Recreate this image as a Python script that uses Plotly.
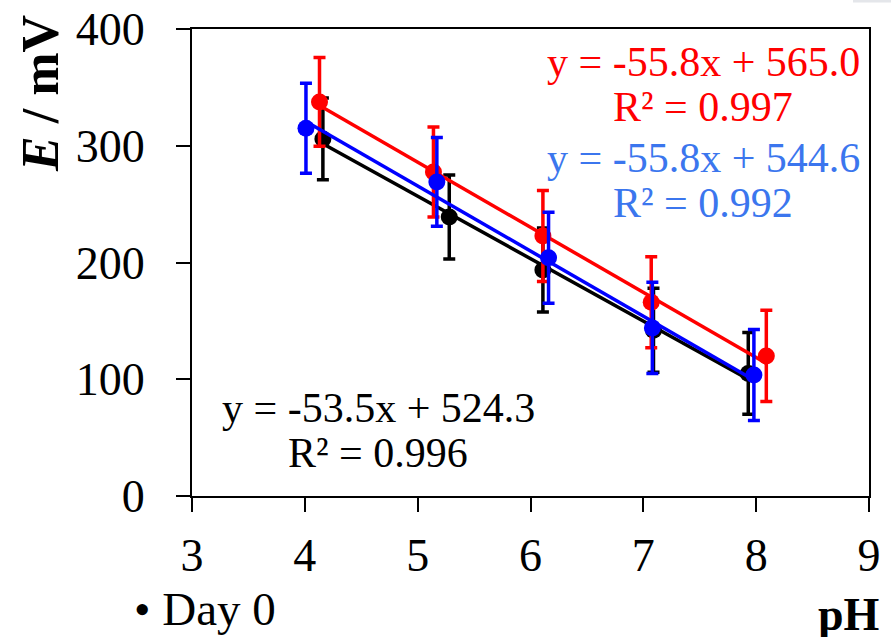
import plotly.graph_objects as go

# Electrode response E vs pH, three repeats (Day 0)
ph_black = [4.16, 5.28, 6.11, 7.09, 7.93]
e_black = [305.8, 239.0, 193.6, 142.0, 105.0]
err_black = [35, 36, 36, 36, 35]

ph_red = [4.13, 5.14, 6.11, 7.07, 8.09]
e_red = [337.5, 277.5, 222.7, 166.0, 120.0]
err_red = [38, 38.5, 39, 39, 39]

ph_blue = [4.01, 5.17, 6.16, 7.08, 7.98]
e_blue = [315.0, 269.0, 204.0, 144.0, 103.6]
err_blue = [38.5, 38, 39, 39, 39]

# Linear fits (slope, intercept, R²)
fit_black = (-53.5, 524.3, 0.996)
fit_red = (-55.8, 565.0, 0.997)
fit_blue = (-55.8, 544.6, 0.992)

x_ticks = [3, 4, 5, 6, 7, 8, 9]
y_ticks = [0, 100, 200, 300, 400]

FONT = "Liberation Serif, Times New Roman, serif"
BLUE_TEXT = "#3b76ee"

fig = go.Figure()


def add_series(xs, ys, errs, fit, color):
    m, b, _ = fit
    x0, x1 = min(xs), max(xs)
    fig.add_trace(go.Scatter(
        x=[x0, x1], y=[m * x0 + b, m * x1 + b], mode="lines",
        line=dict(color=color, width=3.5), showlegend=False, hoverinfo="skip"))
    fig.add_trace(go.Scatter(
        x=xs, y=ys, mode="markers",
        marker=dict(color=color, size=17),
        error_y=dict(type="data", array=errs, visible=True,
                     color=color, thickness=3.5, width=6),
        showlegend=False))


add_series(ph_black, e_black, err_black, fit_black, "#000000")
add_series(ph_red, e_red, err_red, fit_red, "#ff0000")
add_series(ph_blue, e_blue, err_blue, fit_blue, "#0000ff")


def eq_text(fit):
    m, b, r2 = fit
    sign = "+" if b >= 0 else "-"
    return f"y = {m:.1f}x {sign} {abs(b):.1f}", f"R² = {r2:.3f}"


annotations = []
for fit, color, xc, y_eq, y_r2 in [
    (fit_red, "#ff0000", 7.53, 371.7, 333.0),
    (fit_blue, BLUE_TEXT, 7.53, 289.5, 251.0),
    (fit_black, "#000000", 4.65, 75.4, 36.8),
]:
    eq, r2 = eq_text(fit)
    for txt, yy in ((eq, y_eq), (r2, y_r2)):
        annotations.append(dict(x=xc, y=yy, xref="x", yref="y", text=txt,
                                xanchor="center", yanchor="middle", showarrow=False,
                                font=dict(family=FONT, size=42, color=color)))

# axis titles and caption
annotations.append(dict(x=-0.223, y=0.861, xref="paper", yref="paper",
                        xanchor="center", yanchor="middle",
                        text="<b><i>E</i> / mV</b>", textangle=-90, showarrow=False,
                        font=dict(family=FONT, size=52, color="#000000")))
annotations.append(dict(x=(816 - 192) / 677, y=(496 - 614) / 467, xref="paper", yref="paper",
                        xanchor="left", yanchor="middle", text="<b>pH</b>", showarrow=False,
                        font=dict(family=FONT, size=46, color="#000000")))
annotations.append(dict(x=(132 - 192) / 677, y=(496 - 609) / 467, xref="paper", yref="paper",
                        xanchor="left", yanchor="middle", text="• Day 0", showarrow=False,
                        font=dict(family=FONT, size=47, color="#000000")))

fig.update_layout(
    width=891, height=637,
    margin=dict(l=192, r=22, t=29, b=141, autoexpand=False),
    paper_bgcolor="white", plot_bgcolor="white",
    font=dict(family=FONT, color="#000000"),
    annotations=annotations,
    shapes=[dict(type="rect", xref="paper", yref="paper",
                 x0=(853 - 192) / 677, x1=(891 - 192) / 677,
                 y0=(496 - 0) / 467, y1=(496 - 2.5) / 467,
                 fillcolor="#e4e6ea", line=dict(width=0), layer="below")],
)
fig.update_xaxes(
    range=[3, 9], tickvals=x_ticks, ticks="outside", ticklen=14, tickwidth=2,
    tickcolor="#000000", showline=True, linecolor="#000000", linewidth=2,
    mirror=True, showgrid=False, zeroline=False,
    tickfont=dict(family=FONT, size=46), ticklabelstandoff=4)
fig.update_yaxes(
    range=[0, 400], tickvals=y_ticks, ticks="outside", ticklen=14, tickwidth=2,
    tickcolor="#000000", showline=True, linecolor="#000000", linewidth=2,
    mirror=True, showgrid=False, zeroline=False,
    tickfont=dict(family=FONT, size=46), ticklabelstandoff=22)

fig.write_html("out.html")
